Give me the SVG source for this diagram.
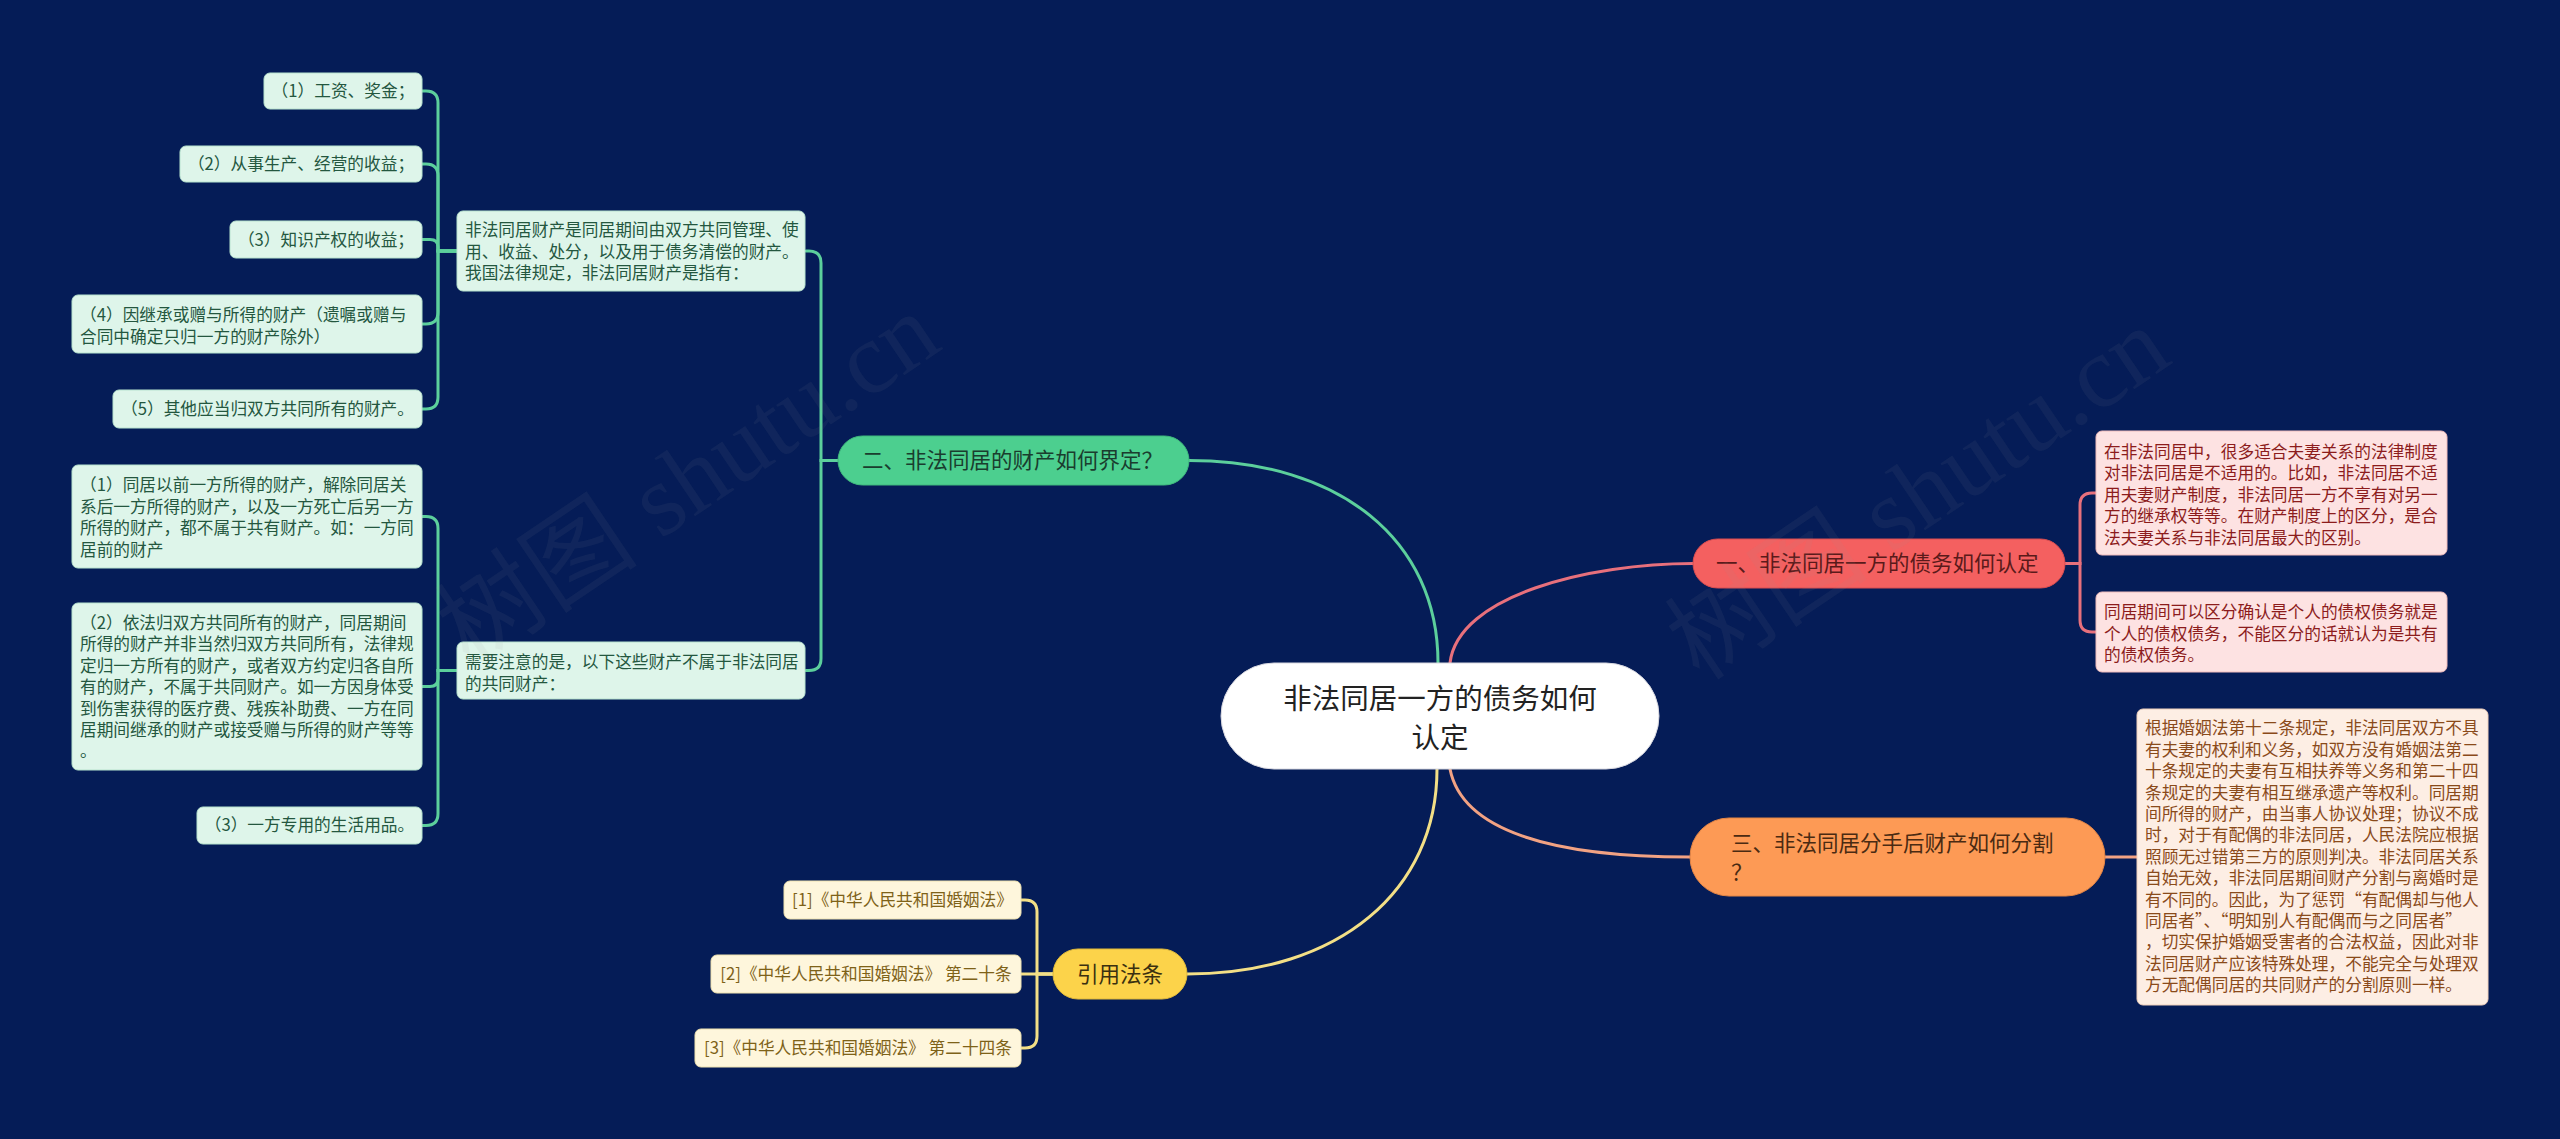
<svg xmlns="http://www.w3.org/2000/svg" width="2560" height="1139" viewBox="0 0 2560 1139">
<style>
text{font-family:"Noto Sans CJK SC","Noto Sans",sans-serif;}
.leaf{font-size:16.7px;}
.br{font-size:21.5px;}
.gl rect{fill:#def5ea;stroke:#b8e3cf;stroke-width:1;}
.gl text{fill:#24573f;}
.rl rect{fill:#fde2e2;stroke:#f0bcbc;stroke-width:1;}
.rl text{fill:#8c1c1c;}
.ol rect{fill:#fdeee4;stroke:#f0d0bc;stroke-width:1;}
.ol text{fill:#8a4a1a;}
.yl rect{fill:#fef6dc;stroke:#efe2b0;stroke-width:1;}
.yl text{fill:#7e6218;}
.c{fill:none;stroke-width:3;stroke-linecap:round;}
.cg{stroke:#5ccf9c;}
.cr{stroke:#e8707c;}
.co{stroke:#f2a283;}
.cy{stroke:#f3df86;}
.wm{font-family:"Liberation Serif","Noto Sans CJK SC",serif;font-size:102px;fill:#9a9a9a;fill-opacity:0.08;}
</style>
<rect x="0" y="0" width="2560" height="1139" fill="#051c57"/>

<g id="connectors">
<path class="c cg" d="M1189,460.5 C1340,460.5 1438,540 1438,663"/>
<path class="c cr" d="M1450,663 C1458,595 1590,563.5 1693,563.5"/>
<path class="c co" d="M1450,769 C1462,830 1550,857 1690,857"/>
<path class="c cy" d="M1437,769 C1437,890 1340,974 1187,974"/>

<path class="c cg" d="M838,460.5 H821 V263 Q821,251 809,251 H806"/>
<path class="c cg" d="M838,460.5 H821 V658.5 Q821,670.5 809,670.5 H806"/>

<path class="c cg" d="M457,251 H438 V103 Q438,91 426,91 H422"/>
<path class="c cg" d="M457,251 H438 V176 Q438,164 426,164 H422"/>
<path class="c cg" d="M457,251 H438 V247 Q438,239.5 430,239.5 H422"/>
<path class="c cg" d="M457,251 H438 V312 Q438,324 426,324 H422"/>
<path class="c cg" d="M457,251 H438 V397 Q438,409 426,409 H422"/>

<path class="c cg" d="M457,670.5 H438 V528.5 Q438,516.5 426,516.5 H422"/>
<path class="c cg" d="M457,670.5 H438 V678.5 Q438,686.5 430,686.5 H422"/>
<path class="c cg" d="M457,670.5 H438 V813.5 Q438,825.5 426,825.5 H422"/>

<path class="c cr" d="M2065,563.5 H2080 V505 Q2080,493 2092,493 H2096"/>
<path class="c cr" d="M2065,563.5 H2080 V620 Q2080,632 2092,632 H2096"/>

<path class="c co" d="M2105,857 H2137"/>

<path class="c cy" d="M1053,974 H1037 V912 Q1037,900 1025,900 H1021"/>
<path class="c cy" d="M1053,974 H1021"/>
<path class="c cy" d="M1053,974 H1037 V1036 Q1037,1048 1025,1048 H1021"/>
</g>

<g id="root">
<rect x="1221" y="663" width="438" height="106" rx="53" fill="#ffffff" stroke="#d8d8e0" stroke-width="1"/>
<text x="1440" y="708.5" font-size="28.5" fill="#222222" text-anchor="middle">非法同居一方的债务如何</text>
<text x="1440" y="747.5" font-size="28.5" fill="#222222" text-anchor="middle">认定</text>
</g>

<g id="branch-green">
<rect x="838" y="436" width="351" height="49" rx="24.5" fill="#4ccf8f" stroke="#3fb87d" stroke-width="1"/>
<text class="br" x="862" y="468" fill="#1a3d2e">二、非法同居的财产如何界定？</text>
</g>

<g id="branch-red">
<rect x="1693" y="539" width="372" height="49" rx="24.5" fill="#f46060" stroke="#d94d50" stroke-width="1"/>
<text class="br" x="1716" y="571" fill="#5a1a1a">一、非法同居一方的债务如何认定</text>
</g>

<g id="branch-orange">
<rect x="1690" y="818" width="415" height="78" rx="39" fill="#fd9a55" stroke="#e48545" stroke-width="1"/>
<text class="br" x="1731" y="851" fill="#4a2a12">三、非法同居分手后财产如何分割</text>
<text class="br" x="1731" y="880" fill="#4a2a12">？</text>
</g>

<g id="branch-yellow">
<rect x="1053" y="949" width="134" height="50" rx="25" fill="#fcd34a" stroke="#e0b93a" stroke-width="1"/>
<text class="br" x="1120" y="982" fill="#3a3010" text-anchor="middle">引用法条</text>
</g>

<g id="g-a" class="gl leaf">
<rect x="457" y="211" width="348" height="80" rx="6"/>
<text x="465" y="236">非法同居财产是同居期间由双方共同管理、使</text>
<text x="465" y="257.5">用、收益、处分，以及用于债务清偿的财产。</text>
<text x="465" y="279">我国法律规定，非法同居财产是指有：</text>
</g>

<g id="g-b" class="gl leaf">
<rect x="457" y="642" width="348" height="57" rx="6"/>
<text x="465" y="668">需要注意的是，以下这些财产不属于非法同居</text>
<text x="465" y="689.5">的共同财产：</text>
</g>

<g id="g-a1" class="gl leaf">
<rect x="264" y="73" width="158" height="36" rx="6"/>
<text x="343" y="97" text-anchor="middle">（1）工资、奖金；</text>
</g>
<g id="g-a2" class="gl leaf">
<rect x="180" y="146" width="242" height="36" rx="6"/>
<text x="301" y="170" text-anchor="middle">（2）从事生产、经营的收益；</text>
</g>
<g id="g-a3" class="gl leaf">
<rect x="230" y="221" width="192" height="37" rx="6"/>
<text x="326" y="245.5" text-anchor="middle">（3）知识产权的收益；</text>
</g>
<g id="g-a4" class="gl leaf">
<rect x="72" y="295" width="350" height="58" rx="6"/>
<text x="80" y="321">（4）因继承或赠与所得的财产（遗嘱或赠与</text>
<text x="80" y="343">合同中确定只归一方的财产除外）</text>
</g>
<g id="g-a5" class="gl leaf">
<rect x="113" y="390" width="309" height="38" rx="6"/>
<text x="267.5" y="415" text-anchor="middle">（5）其他应当归双方共同所有的财产。</text>
</g>

<g id="g-b1" class="gl leaf">
<rect x="72" y="465" width="350" height="103" rx="6"/>
<text x="80" y="491">（1）同居以前一方所得的财产，解除同居关</text>
<text x="80" y="512.5">系后一方所得的财产，以及一方死亡后另一方</text>
<text x="80" y="534">所得的财产，都不属于共有财产。如：一方同</text>
<text x="80" y="555.5">居前的财产</text>
</g>
<g id="g-b2" class="gl leaf">
<rect x="72" y="603" width="350" height="167" rx="6"/>
<text x="80" y="629">（2）依法归双方共同所有的财产，同居期间</text>
<text x="80" y="650.4">所得的财产并非当然归双方共同所有，法律规</text>
<text x="80" y="671.8">定归一方所有的财产，或者双方约定归各自所</text>
<text x="80" y="693.2">有的财产，不属于共同财产。如一方因身体受</text>
<text x="80" y="714.6">到伤害获得的医疗费、残疾补助费、一方在同</text>
<text x="80" y="736">居期间继承的财产或接受赠与所得的财产等等</text>
<text x="80" y="757.4">。</text>
</g>
<g id="g-b3" class="gl leaf">
<rect x="197" y="807" width="225" height="37" rx="6"/>
<text x="309.5" y="831" text-anchor="middle">（3）一方专用的生活用品。</text>
</g>

<g id="r-1" class="rl leaf">
<rect x="2096" y="431" width="351" height="124" rx="6"/>
<text x="2104" y="458">在非法同居中，很多适合夫妻关系的法律制度</text>
<text x="2104" y="479.4">对非法同居是不适用的。比如，非法同居不适</text>
<text x="2104" y="500.8">用夫妻财产制度，非法同居一方不享有对另一</text>
<text x="2104" y="522.2">方的继承权等等。在财产制度上的区分，是合</text>
<text x="2104" y="543.6">法夫妻关系与非法同居最大的区别。</text>
</g>
<g id="r-2" class="rl leaf">
<rect x="2096" y="592" width="351" height="80" rx="6"/>
<text x="2104" y="618">同居期间可以区分确认是个人的债权债务就是</text>
<text x="2104" y="639.5">个人的债权债务，不能区分的话就认为是共有</text>
<text x="2104" y="661">的债权债务。</text>
</g>

<g id="o-1" class="ol leaf">
<rect x="2137" y="709" width="351" height="296" rx="6"/>
<text x="2145" y="734.3">根据婚姻法第十二条规定，非法同居双方不具</text>
<text x="2145" y="755.7">有夫妻的权利和义务，如双方没有婚姻法第二</text>
<text x="2145" y="777.1">十条规定的夫妻有互相扶养等义务和第二十四</text>
<text x="2145" y="798.5">条规定的夫妻有相互继承遗产等权利。同居期</text>
<text x="2145" y="819.9">间所得的财产，由当事人协议处理；协议不成</text>
<text x="2145" y="841.3">时，对于有配偶的非法同居，人民法院应根据</text>
<text x="2145" y="862.7">照顾无过错第三方的原则判决。非法同居关系</text>
<text x="2145" y="884.1">自始无效，非法同居期间财产分割与离婚时是</text>
<text x="2145" y="905.5">有不同的。因此，为了惩罚“有配偶却与他人</text>
<text x="2145" y="926.9">同居者”、“明知别人有配偶而与之同居者”</text>
<text x="2145" y="948.3">，切实保护婚姻受害者的合法权益，因此对非</text>
<text x="2145" y="969.7">法同居财产应该特殊处理，不能完全与处理双</text>
<text x="2145" y="991.1">方无配偶同居的共同财产的分割原则一样。</text>
</g>

<g id="y-1" class="yl leaf">
<rect x="784" y="881" width="237" height="38" rx="6"/>
<text x="902.5" y="906" text-anchor="middle">[1]《中华人民共和国婚姻法》</text>
</g>
<g id="y-2" class="yl leaf">
<rect x="711" y="955" width="310" height="38" rx="6"/>
<text x="866" y="980" text-anchor="middle">[2]《中华人民共和国婚姻法》 第二十条</text>
</g>
<g id="y-3" class="yl leaf">
<rect x="695" y="1029" width="326" height="38" rx="6"/>
<text x="858" y="1054" text-anchor="middle">[3]《中华人民共和国婚姻法》 第二十四条</text>
</g>

<g id="watermarks">
<text class="wm" transform="translate(470,668) rotate(-34)">树图 shutu.cn</text>
<text class="wm" transform="translate(1700,682) rotate(-34)">树图 shutu.cn</text>
</g>
</svg>
